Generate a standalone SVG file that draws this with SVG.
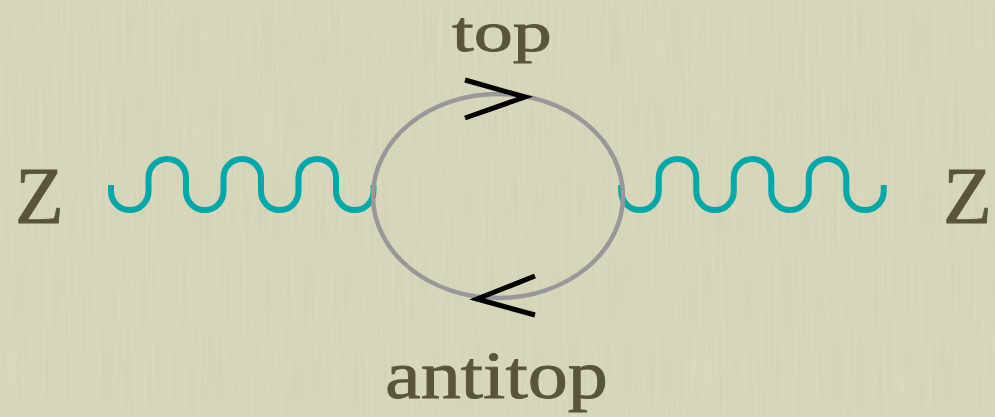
<svg xmlns="http://www.w3.org/2000/svg" width="995" height="417" viewBox="0 0 995 417">
  <defs>
    <filter id="grain" x="0" y="0" width="100%" height="100%">
      <feTurbulence type="fractalNoise" baseFrequency="0.35 0.012" numOctaves="2" seed="3" result="n"/>
      <feColorMatrix in="n" type="matrix" values="0 0 0 0 1  0 0 0 0 1  0 0 0 0 0.95  0 0 0 0.35 0" />
    </filter>
    <style>
      .lbl { font-family: "Liberation Serif", "DejaVu Serif", serif; fill: #58553b; stroke: #58553b; stroke-width: 0.8; }
      .wave { fill: none; stroke: #00a8aa; stroke-width: 6; stroke-linecap: butt; }
      .loop { fill: none; stroke: #98989a; stroke-width: 4.5; }
      .arrow { fill: none; stroke: #000; stroke-width: 5; stroke-linejoin: miter; stroke-linecap: butt; }
    </style>
  </defs>
  <rect width="995" height="417" fill="#d2d1b2"/>
  <rect width="995" height="417" filter="url(#grain)" opacity="0.6"/>

  <g id="connectors">
    <path id="z-left-wave" class="wave" d="M111,185 L111,191.25 A18.75,18.75 0 0 0 148.5,191.25 L148.5,177.75 A18.75,18.75 0 0 1 186,177.75 L186,191.25 A18.75,18.75 0 0 0 223.5,191.25 L223.5,177.75 A18.75,18.75 0 0 1 261,177.75 L261,191.25 A18.75,18.75 0 0 0 298.5,191.25 L298.5,177.75 A18.75,18.75 0 0 1 336,177.75 L336,191.25 A18.75,18.75 0 0 0 373.5,191.25 L373.5,185"/>
    <path id="z-right-wave" class="wave" d="M621.25,185 L621.25,191.25 A18.75,18.75 0 0 0 658.75,191.25 L658.75,177.75 A18.75,18.75 0 0 1 696.25,177.75 L696.25,191.25 A18.75,18.75 0 0 0 733.75,191.25 L733.75,177.75 A18.75,18.75 0 0 1 771.25,177.75 L771.25,191.25 A18.75,18.75 0 0 0 808.75,191.25 L808.75,177.75 A18.75,18.75 0 0 1 846.25,177.75 L846.25,191.25 A18.75,18.75 0 0 0 883.75,191.25 L883.75,185"/>
    <ellipse id="loop" class="loop" cx="498" cy="196" rx="125" ry="102"/>
    <polyline id="arrow-top" class="arrow" points="465,80 525,97 465,118"/>
    <polyline id="arrow-bottom" class="arrow" points="535,276 477,299 535,315"/>
  </g>

  <g id="node-z-left"><text class="lbl" x="15" y="223" font-size="80">Z</text></g>
  <g id="node-z-right"><text class="lbl" x="943" y="223" font-size="80">Z</text></g>
  <g id="label-top"><text class="lbl" x="452" y="51" font-size="58" textLength="100" lengthAdjust="spacingAndGlyphs">top</text></g>
  <g id="label-antitop"><text class="lbl" x="385" y="398" font-size="68" textLength="223" lengthAdjust="spacingAndGlyphs">antitop</text></g>
</svg>
